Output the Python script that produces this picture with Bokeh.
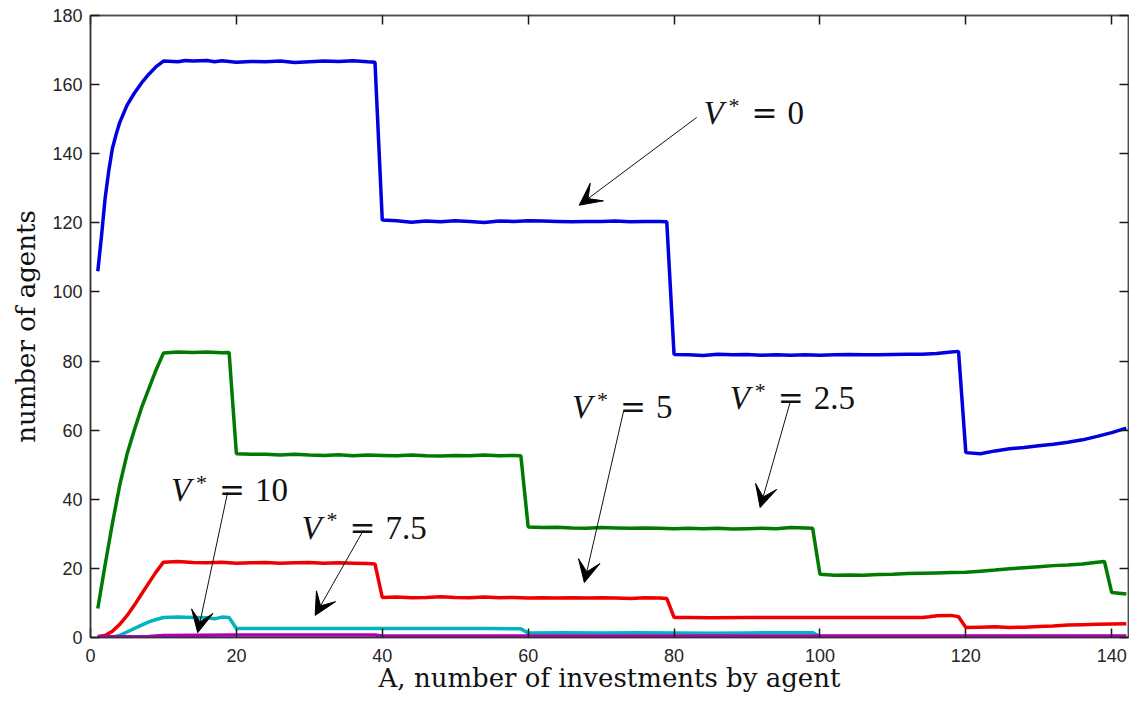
from bokeh.plotting import figure
from bokeh.models import Range1d, FixedTicker, LinearAxis, Label, Arrow, VeeHead
from bokeh.embed import file_html
from bokeh.resources import INLINE

# ---------------- data ----------------
x_ticks = [0, 20, 40, 60, 80, 100, 120, 140]
y_ticks = [0, 20, 40, 60, 80, 100, 120, 140, 160, 180]

# V* = 0 (blue)
blue_x = [1, 1.5, 2, 2.5, 3, 3.5, 4, 5, 6, 7, 8, 9, 10, 12, 13, 14, 16, 17, 18, 20,
          22, 24, 26, 28, 30, 32, 34, 36, 38, 39, 40, 42, 44, 46, 48, 50, 52, 54, 56,
          58, 60, 62, 64, 66, 68, 70, 72, 74, 76, 78, 79, 80, 82, 84, 86, 88, 90, 92,
          94, 96, 98, 100, 102, 104, 106, 108, 110, 112, 114, 116, 118, 119, 120, 122,
          124, 126, 128, 130, 132, 134, 136, 138, 140, 142]
blue_y = [106, 116, 127, 135, 141.5, 145.5, 149, 154, 157.5, 160.5, 163, 165.2, 166.8,
          166.6, 167.0, 166.8, 167.0, 166.6, 166.9, 166.5, 166.7, 166.6, 166.8, 166.4,
          166.6, 166.8, 166.7, 166.9, 166.6, 166.5, 120.8, 120.6, 120.2, 120.5, 120.3,
          120.6, 120.4, 120.1, 120.5, 120.4, 120.6, 120.5, 120.4, 120.3, 120.4, 120.4,
          120.5, 120.3, 120.4, 120.4, 120.3, 81.9, 81.8, 81.6, 82.0, 81.8, 81.9, 81.7,
          81.8, 81.7, 81.8, 81.7, 81.8, 81.9, 81.8, 81.8, 81.9, 82.0, 82.0, 82.2, 82.6,
          82.8, 53.5, 53.2, 54.0, 54.6, 55.0, 55.5, 55.9, 56.5, 57.2, 58.2, 59.3, 60.6]

# V* = 2.5 (green)
green_x = [1, 2, 3, 4, 5, 6, 7, 8, 9, 10, 12, 14, 16, 18, 19, 20, 22, 24, 26, 28, 30,
           32, 34, 36, 38, 40, 42, 44, 46, 48, 50, 52, 54, 56, 58, 59, 60, 62, 64, 66,
           68, 70, 72, 74, 76, 78, 80, 82, 84, 86, 88, 90, 92, 94, 96, 98, 99, 100, 102,
           104, 106, 108, 110, 112, 114, 116, 118, 120, 122, 124, 126, 128, 130, 132,
           134, 136, 138, 139, 140, 142]
green_y = [8.4, 21, 33, 44, 53, 60, 66.5, 72, 77.5, 82.3, 82.6, 82.5, 82.6, 82.4, 82.5,
           53.2, 53.0, 53.0, 52.8, 53.0, 52.8, 52.7, 52.9, 52.6, 52.8, 52.7, 52.6, 52.8,
           52.6, 52.5, 52.7, 52.6, 52.8, 52.6, 52.7, 52.6, 32.0, 31.8, 31.9, 31.7, 31.6,
           31.8, 31.7, 31.6, 31.7, 31.6, 31.5, 31.6, 31.5, 31.6, 31.4, 31.5, 31.6, 31.5,
           31.8, 31.7, 31.6, 18.3, 18.0, 18.1, 18.0, 18.2, 18.3, 18.5, 18.6, 18.7, 18.8,
           18.9, 19.2, 19.5, 19.9, 20.2, 20.5, 20.8, 21.0, 21.3, 21.8, 22.0, 13.0, 12.6]

# V* = 5 (red)
red_x = [1, 2, 3, 4, 5, 6, 7, 8, 9, 10, 12, 14, 16, 18, 20, 22, 24, 26, 28, 30, 32, 34,
         36, 38, 39, 40, 42, 44, 46, 48, 50, 52, 54, 56, 58, 60, 62, 64, 66, 68, 70, 72,
         74, 76, 78, 79, 80, 82, 85, 90, 95, 100, 105, 110, 114, 115, 116, 118, 119,
         120, 122, 124, 126, 128, 130, 132, 134, 136, 138, 140, 142]
red_y = [0.3, 0.6, 1.8, 3.8, 6.3, 9.3, 12.6, 15.8, 19.0, 21.8, 22.0, 21.7, 21.6, 21.8,
         21.5, 21.6, 21.7, 21.5, 21.6, 21.7, 21.5, 21.6, 21.5, 21.4, 21.3, 11.6, 11.7,
         11.5, 11.6, 11.8, 11.6, 11.5, 11.7, 11.5, 11.6, 11.4, 11.5, 11.4, 11.5, 11.4,
         11.5, 11.4, 11.3, 11.5, 11.4, 11.3, 5.8, 5.8, 5.7, 5.8, 5.8, 5.8, 5.8, 5.8,
         5.8, 6.0, 6.3, 6.4, 6.0, 2.9, 3.0, 3.1, 2.9, 3.0, 3.2, 3.3, 3.6, 3.7, 3.8, 3.9,
         4.0]

# V* = 7.5 (cyan)
cyan_x = [1, 3, 4, 5, 6, 7, 8, 9, 10, 12, 14, 16, 17, 18, 19, 20, 25, 30, 35, 40, 45,
          50, 55, 59, 60, 65, 70, 75, 80, 85, 90, 95, 99, 100, 142]
cyan_y = [0.0, 0.1, 0.6, 1.6, 2.6, 3.6, 4.5, 5.2, 5.8, 5.9, 5.8, 5.7, 5.4, 5.9, 5.8,
          2.6, 2.6, 2.6, 2.6, 2.6, 2.6, 2.6, 2.6, 2.5, 1.3, 1.4, 1.3, 1.4, 1.3, 1.2, 1.3,
          1.4, 1.4, 0.3, 0.3]

# V* = 10 (magenta)
mag_x = [1, 8, 10, 20, 39, 40, 60, 100, 142]
mag_y = [0.2, 0.3, 0.6, 0.7, 0.7, 0.45, 0.45, 0.45, 0.45]

ann_vals = ["0", "2.5", "5", "7.5", "10"]

# ---------------- figure ----------------
p = figure(width=1129, height=696, output_backend="svg", toolbar_location=None,
           x_range=Range1d(0, 142.3), y_range=Range1d(0, 180),
           min_border_left=90, min_border_top=15, min_border_right=1,
           min_border_bottom=59)
p.background_fill_color = "white"
p.border_fill_color = "white"
p.grid.visible = False
p.outline_line_color = "#4d4d4d"
p.outline_line_width = 1.5

tick_font = "Liberation Sans"
for ax, ticks in ((p.xaxis[0], x_ticks), (p.yaxis[0], y_ticks)):
    ax.ticker = FixedTicker(ticks=ticks)
    ax.major_tick_in = 9
    ax.major_tick_out = 0
    ax.minor_tick_in = 0
    ax.minor_tick_out = 0
    ax.major_tick_line_color = "#1a1a1a"
    ax.major_tick_line_width = 1.5
    ax.axis_line_color = "#333333"
    ax.axis_line_width = 1.5
    ax.major_label_text_font = tick_font
    ax.major_label_text_font_size = "18px"
    ax.major_label_text_color = "#262626"
    ax.axis_label_text_font = "DejaVu Serif"
    ax.axis_label_text_font_size = "26px"
    ax.axis_label_text_font_style = "normal"
    ax.axis_label_text_color = "#111111"

p.xaxis.axis_label = "A, number of investments by agent"
p.yaxis.axis_label = "number of agents"
p.xaxis.major_label_standoff = 11
p.xaxis.axis_label_standoff = -2
p.yaxis.major_label_standoff = 8
p.yaxis.axis_label_standoff = 8

# mirror ticks on top and right (box style), labels not drawn
for side, ticks in (("right", y_ticks), ("above", x_ticks)):
    ax = LinearAxis(ticker=FixedTicker(ticks=ticks), major_label_text_font_size="1px",
                    major_label_text_color=None, major_label_standoff=0,
                    major_tick_in=9, major_tick_out=0,
                    minor_tick_in=0, minor_tick_out=0, axis_line_color="#4d4d4d",
                    axis_line_width=1.5, major_tick_line_color="#1a1a1a",
                    major_tick_line_width=1.5)
    p.add_layout(ax, side)

lw = 3.5
p.line(blue_x, blue_y, line_color="#0000e0", line_width=lw)
p.line(green_x, green_y, line_color="#007a00", line_width=lw)
p.line(red_x, red_y, line_color="#ee0000", line_width=lw)
p.line(cyan_x, cyan_y, line_color="#00b5bd", line_width=lw)
p.line(mag_x, mag_y, line_color="#b000b5", line_width=lw)

# annotation placement (text anchor = left of V, baseline), arrows tail -> head
ann_pos = [
    (84.3, 151.7, 83.1, 150.5, 67.0, 125.1),
    (87.9, 69.2, 95.9, 68.0, 91.8, 37.6),
    (66.3, 66.6, 73.1, 65.7, 67.7, 15.9),
    (29.2, 31.8, 37.4, 31.0, 30.8, 6.4),
    (11.3, 42.6, 18.8, 42.0, 14.7, 1.4),
]
tc = "#111111"
for val, (tx, ty, ax0, ay0, ax1, ay1) in zip(ann_vals, ann_pos):
    p.add_layout(Label(x=tx, y=ty, text="V", x_offset=-2, text_font="Liberation Serif",
                       text_font_style="italic", text_font_size="33px",
                       text_baseline="alphabetic", text_color=tc))
    p.add_layout(Label(x=tx, y=ty, text="*", x_offset=23, y_offset=8,
                       text_font="Liberation Serif", text_font_size="22px",
                       text_baseline="alphabetic", text_color=tc))
    p.add_layout(Label(x=tx, y=ty, text="=", x_offset=46, y_offset=0,
                       text_font="DejaVu Serif", text_font_size="31px",
                       text_baseline="alphabetic", text_color=tc))
    p.add_layout(Label(x=tx, y=ty, text=val, x_offset=82, text_font="Liberation Serif",
                       text_font_size="33px", text_baseline="alphabetic",
                       text_color=tc))
    p.add_layout(Arrow(end=VeeHead(size=22, fill_color="black", line_color="black",
                                   line_width=1),
                       x_start=ax0, y_start=ay0, x_end=ax1, y_end=ay1,
                       line_width=1, line_color="#111111"))

open("out.html", "w").write(file_html(p, INLINE))
